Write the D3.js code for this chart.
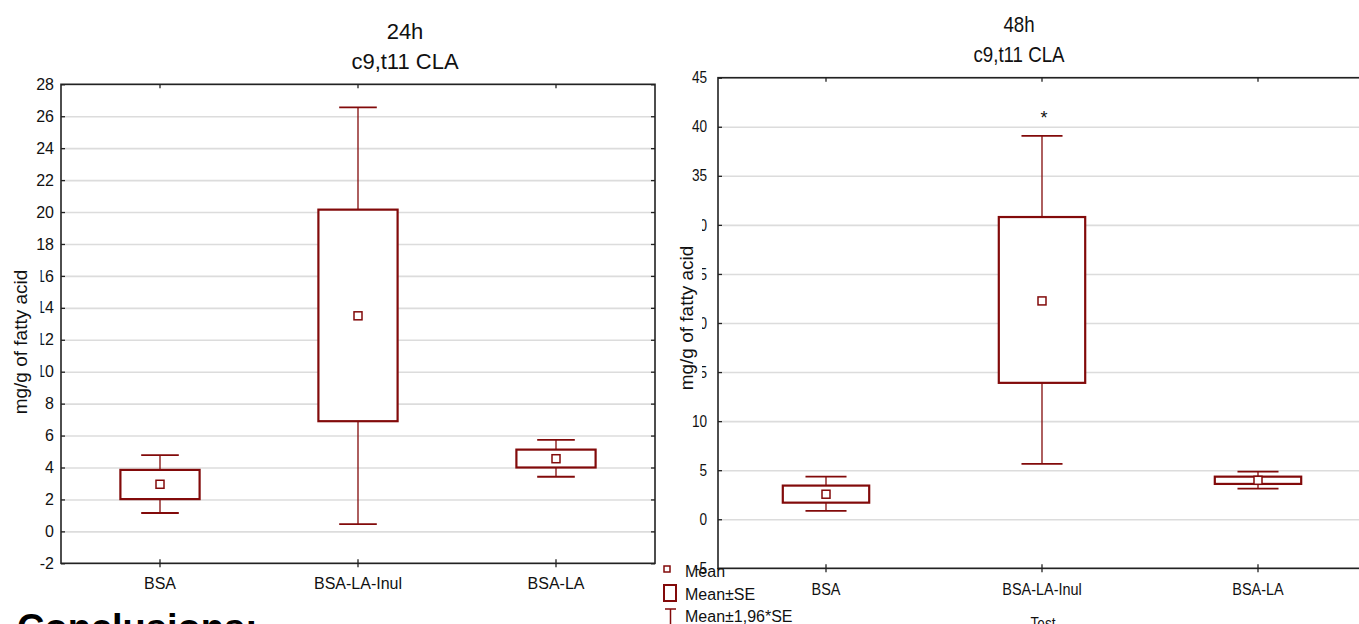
<!DOCTYPE html>
<html>
<head>
<meta charset="utf-8">
<script src="https://cdn.jsdelivr.net/npm/d3@7"></script>
<style>
  body { margin: 0; background: #fff; }
  svg { display: block; font-family: "Liberation Sans", Arial, sans-serif; }
  .grid line { stroke: #dcdcdc; stroke-width: 1.6; }
  .grid path, .axis path { display: none; }
  .axis line { stroke: #222; stroke-width: 1.3; }
  .axis text { fill: #111; }
</style>
</head>
<body>
<div id="container"></div>
<script>
// group names on the x axis
var categories = ["BSA", "BSA-LA-Inul", "BSA-LA"];

// 24h: mean, box = mean±SE, whiskers = mean±1,96*SE
var mean24 = [2.95, 13.5, 4.55];
var seLow24 = [2.02, 6.9, 4.0];
var seHigh24 = [3.85, 20.15, 5.12];
var ciLow24 = [1.15, 0.45, 3.42];
var ciHigh24 = [4.78, 26.55, 5.73];
var ticks24 = [-2, 0, 2, 4, 6, 8, 10, 12, 14, 16, 18, 20, 22, 24, 26, 28];
var marks24 = ["", "", ""];

// 48h
var mean48 = [2.55, 22.25, 3.97];
var seLow48 = [1.69, 13.9, 3.6];
var seHigh48 = [3.43, 30.8, 4.34];
var ciLow48 = [0.85, 5.64, 3.12];
var ciHigh48 = [4.34, 39.07, 4.85];
var ticks48 = [-5, 0, 5, 10, 15, 20, 25, 30, 35, 40, 45];
var marks48 = ["", "*", ""];

var titles24 = ["24h", "c9,t11 CLA"];
var titles48 = ["48h", "c9,t11 CLA"];
var yLabel = "mg/g of fatty acid";
var xTitle = "Test";
var legendLabels = ["Mean", "Mean±SE", "Mean±1,96*SE"];
var slideText = "Conclusions:";

var W = 1359, H = 624;
var red = "#820a0a";

var svg = d3.select("#container").append("svg")
  .attr("width", W).attr("height", H);

// squeeze text horizontally (the slide pictures were resized unevenly)
function squeeze(sel, sx) {
  if (sx === 1) return;
  sel.each(function() {
    var t = d3.select(this);
    var x0 = +t.attr("x") || 0;
    t.attr("x", x0 / sx).attr("transform", "scale(" + sx + ",1)");
  });
}

function drawPanel(p) {
  var g = svg.append("g");
  var x = d3.scaleBand().domain(categories).range([p.left, p.right]);
  var y = d3.scaleLinear()
    .domain([p.ticks[0], p.ticks[p.ticks.length - 1]])
    .range([p.bottom, p.top]);
  var bw = x.bandwidth();

  // grid lines
  g.append("g").attr("class", "grid")
    .attr("transform", "translate(" + p.left + ",0)")
    .call(d3.axisLeft(y).tickValues(p.ticks).tickSize(-(p.right - p.left)).tickFormat(""));

  // frame
  g.append("rect")
    .attr("x", p.left).attr("y", p.top)
    .attr("width", p.right - p.left).attr("height", p.bottom - p.top)
    .attr("fill", "none").attr("stroke", "#222").attr("stroke-width", 1.6);

  // y axis (ticks inside), plain hyphen for negatives
  var ya = g.append("g").attr("class", "axis")
    .attr("transform", "translate(" + p.left + ",0)")
    .call(d3.axisLeft(y).tickValues(p.ticks).tickSizeInner(-4).tickSizeOuter(0)
      .tickPadding(p.yPad).tickFormat(function(d) { return String(d); }));
  ya.selectAll("text").style("font-size", p.tickFont + "px");
  squeeze(ya.selectAll("text"), p.sx);

  g.append("g").attr("class", "axis")
    .attr("transform", "translate(" + p.right + ",0)")
    .call(d3.axisRight(y).tickValues(p.ticks).tickSizeInner(-4).tickSizeOuter(0).tickFormat(""));

  // x axis, ticks crossing the bottom line
  var xa = g.append("g").attr("class", "axis")
    .attr("transform", "translate(0," + p.bottom + ")")
    .call(d3.axisBottom(x).tickSizeInner(4).tickSizeOuter(0).tickPadding(p.xPad));
  xa.selectAll("text").style("font-size", p.catFont + "px");
  squeeze(xa.selectAll("text"), p.sx);
  g.append("g").attr("class", "axis")
    .attr("transform", "translate(0," + p.bottom + ")")
    .call(d3.axisBottom(x).tickSizeInner(-4).tickSizeOuter(0).tickFormat(""));
  g.append("g").attr("class", "axis")
    .attr("transform", "translate(0," + p.top + ")")
    .call(d3.axisTop(x).tickSizeInner(-4).tickSizeOuter(0).tickFormat(""));

  // boxes
  var rows = categories.map(function(c, i) {
    return { cat: c, mean: p.mean[i], seLo: p.seLow[i], seHi: p.seHigh[i],
      ciLo: p.ciLow[i], ciHi: p.ciHigh[i], mark: p.marks[i] };
  });
  var b = g.selectAll(".box").data(rows).enter().append("g").attr("class", "box");

  b.append("line")
    .attr("x1", function(d) { return x(d.cat) + bw / 2; })
    .attr("x2", function(d) { return x(d.cat) + bw / 2; })
    .attr("y1", function(d) { return y(d.ciLo); })
    .attr("y2", function(d) { return y(d.ciHi); })
    .attr("stroke", red).attr("stroke-width", 1.3);
  ["ciLo", "ciHi"].forEach(function(k) {
    b.append("line")
      .attr("x1", function(d) { return x(d.cat) + bw / 2 - bw * 0.095; })
      .attr("x2", function(d) { return x(d.cat) + bw / 2 + bw * 0.095; })
      .attr("y1", function(d) { return y(d[k]); })
      .attr("y2", function(d) { return y(d[k]); })
      .attr("stroke", red).attr("stroke-width", 1.8);
  });
  b.append("rect")
    .attr("x", function(d) { return x(d.cat) + bw * 0.3; })
    .attr("width", bw * 0.4)
    .attr("y", function(d) { return y(d.seHi); })
    .attr("height", function(d) { return y(d.seLo) - y(d.seHi); })
    .attr("fill", "#fff").attr("stroke", red).attr("stroke-width", 2.2);
  b.append("rect")
    .attr("x", function(d) { return x(d.cat) + bw / 2 - 4; })
    .attr("y", function(d) { return y(d.mean) - 4; })
    .attr("width", 8).attr("height", 8)
    .attr("fill", "#fff").attr("stroke", red).attr("stroke-width", 1.5);
  b.append("text")
    .attr("x", function(d) { return x(d.cat) + bw / 2 + 2; })
    .attr("y", function(d) { return y(d.ciHi) - 12; })
    .attr("text-anchor", "middle").style("font-size", "18px").attr("fill", "#111")
    .text(function(d) { return d.mark; });

  // titles
  p.titles.forEach(function(t, i) {
    svg.append("text")
      .attr("transform", "translate(" + p.titleX + "," + p.titleY[i] + ") scale(" + p.sx + ",1)")
      .attr("text-anchor", "middle").style("font-size", p.titleFont + "px").attr("fill", "#111")
      .text(t);
  });

  // white patch behind the y title hides part of the tick labels, as in the slide
  svg.append("rect")
    .attr("x", p.cover[0]).attr("y", p.cover[1])
    .attr("width", p.cover[2]).attr("height", p.cover[3])
    .attr("fill", "#fff");
  svg.append("text")
    .attr("transform", "translate(" + p.yLabelX + "," + p.yLabelY + ") rotate(-90)")
    .attr("text-anchor", "middle").style("font-size", "19px").attr("fill", "#111")
    .text(yLabel);
}

drawPanel({
  left: 61, right: 655, top: 84.3, bottom: 563.3,
  ticks: ticks24, mean: mean24, seLow: seLow24, seHigh: seHigh24,
  ciLow: ciLow24, ciHigh: ciHigh24, marks: marks24,
  titles: titles24, titleX: 405, titleY: [39, 69], titleFont: 22,
  tickFont: 16, catFont: 16, yPad: 7, xPad: 10, sx: 1,
  cover: [0, 258, 40.5, 125], yLabelX: 27, yLabelY: 342
});

drawPanel({
  left: 718, right: 1366, top: 77.7, bottom: 568.3,
  ticks: ticks48, mean: mean48, seLow: seLow48, seHigh: seHigh48,
  ciLow: ciLow48, ciHigh: ciHigh48, marks: marks48,
  titles: titles48, titleX: 1019, titleY: [32, 62], titleFont: 22,
  tickFont: 16, catFont: 17, yPad: 11, xPad: 11, sx: 0.85,
  cover: [660, 200, 42, 200], yLabelX: 693, yLabelY: 318
});

// x title of the right panel, cut off by the slide edge
svg.append("text")
  .attr("transform", "translate(1043,629) scale(0.85,1)")
  .attr("text-anchor", "middle").style("font-size", "16px").attr("fill", "#111")
  .text(xTitle);

// legend
var leg = svg.append("g").attr("transform", "translate(663,0)");
leg.append("rect").attr("x", 1).attr("y", 566).attr("width", 6).attr("height", 6)
  .attr("fill", "#fff").attr("stroke", red).attr("stroke-width", 1.5);
leg.append("rect").attr("x", 1).attr("y", 585).attr("width", 12).attr("height", 16)
  .attr("fill", "#fff").attr("stroke", red).attr("stroke-width", 2);
leg.append("line").attr("x1", 2).attr("x2", 13).attr("y1", 609).attr("y2", 609)
  .attr("stroke", red).attr("stroke-width", 1.5);
leg.append("line").attr("x1", 7.5).attr("x2", 7.5).attr("y1", 609).attr("y2", 624)
  .attr("stroke", red).attr("stroke-width", 1.5);
leg.selectAll(".lt").data(legendLabels).enter().append("text")
  .attr("class", "lt")
  .attr("x", 22)
  .attr("y", function(d, i) { return 577 + i * 22.5; })
  .style("font-size", "16px").attr("fill", "#111")
  .text(function(d) { return d; });

// slide heading below the charts
svg.append("text")
  .attr("x", 17).attr("y", 641)
  .style("font-size", "38px").style("font-weight", "bold").attr("fill", "#000")
  .text(slideText);
</script>
</body>
</html>
